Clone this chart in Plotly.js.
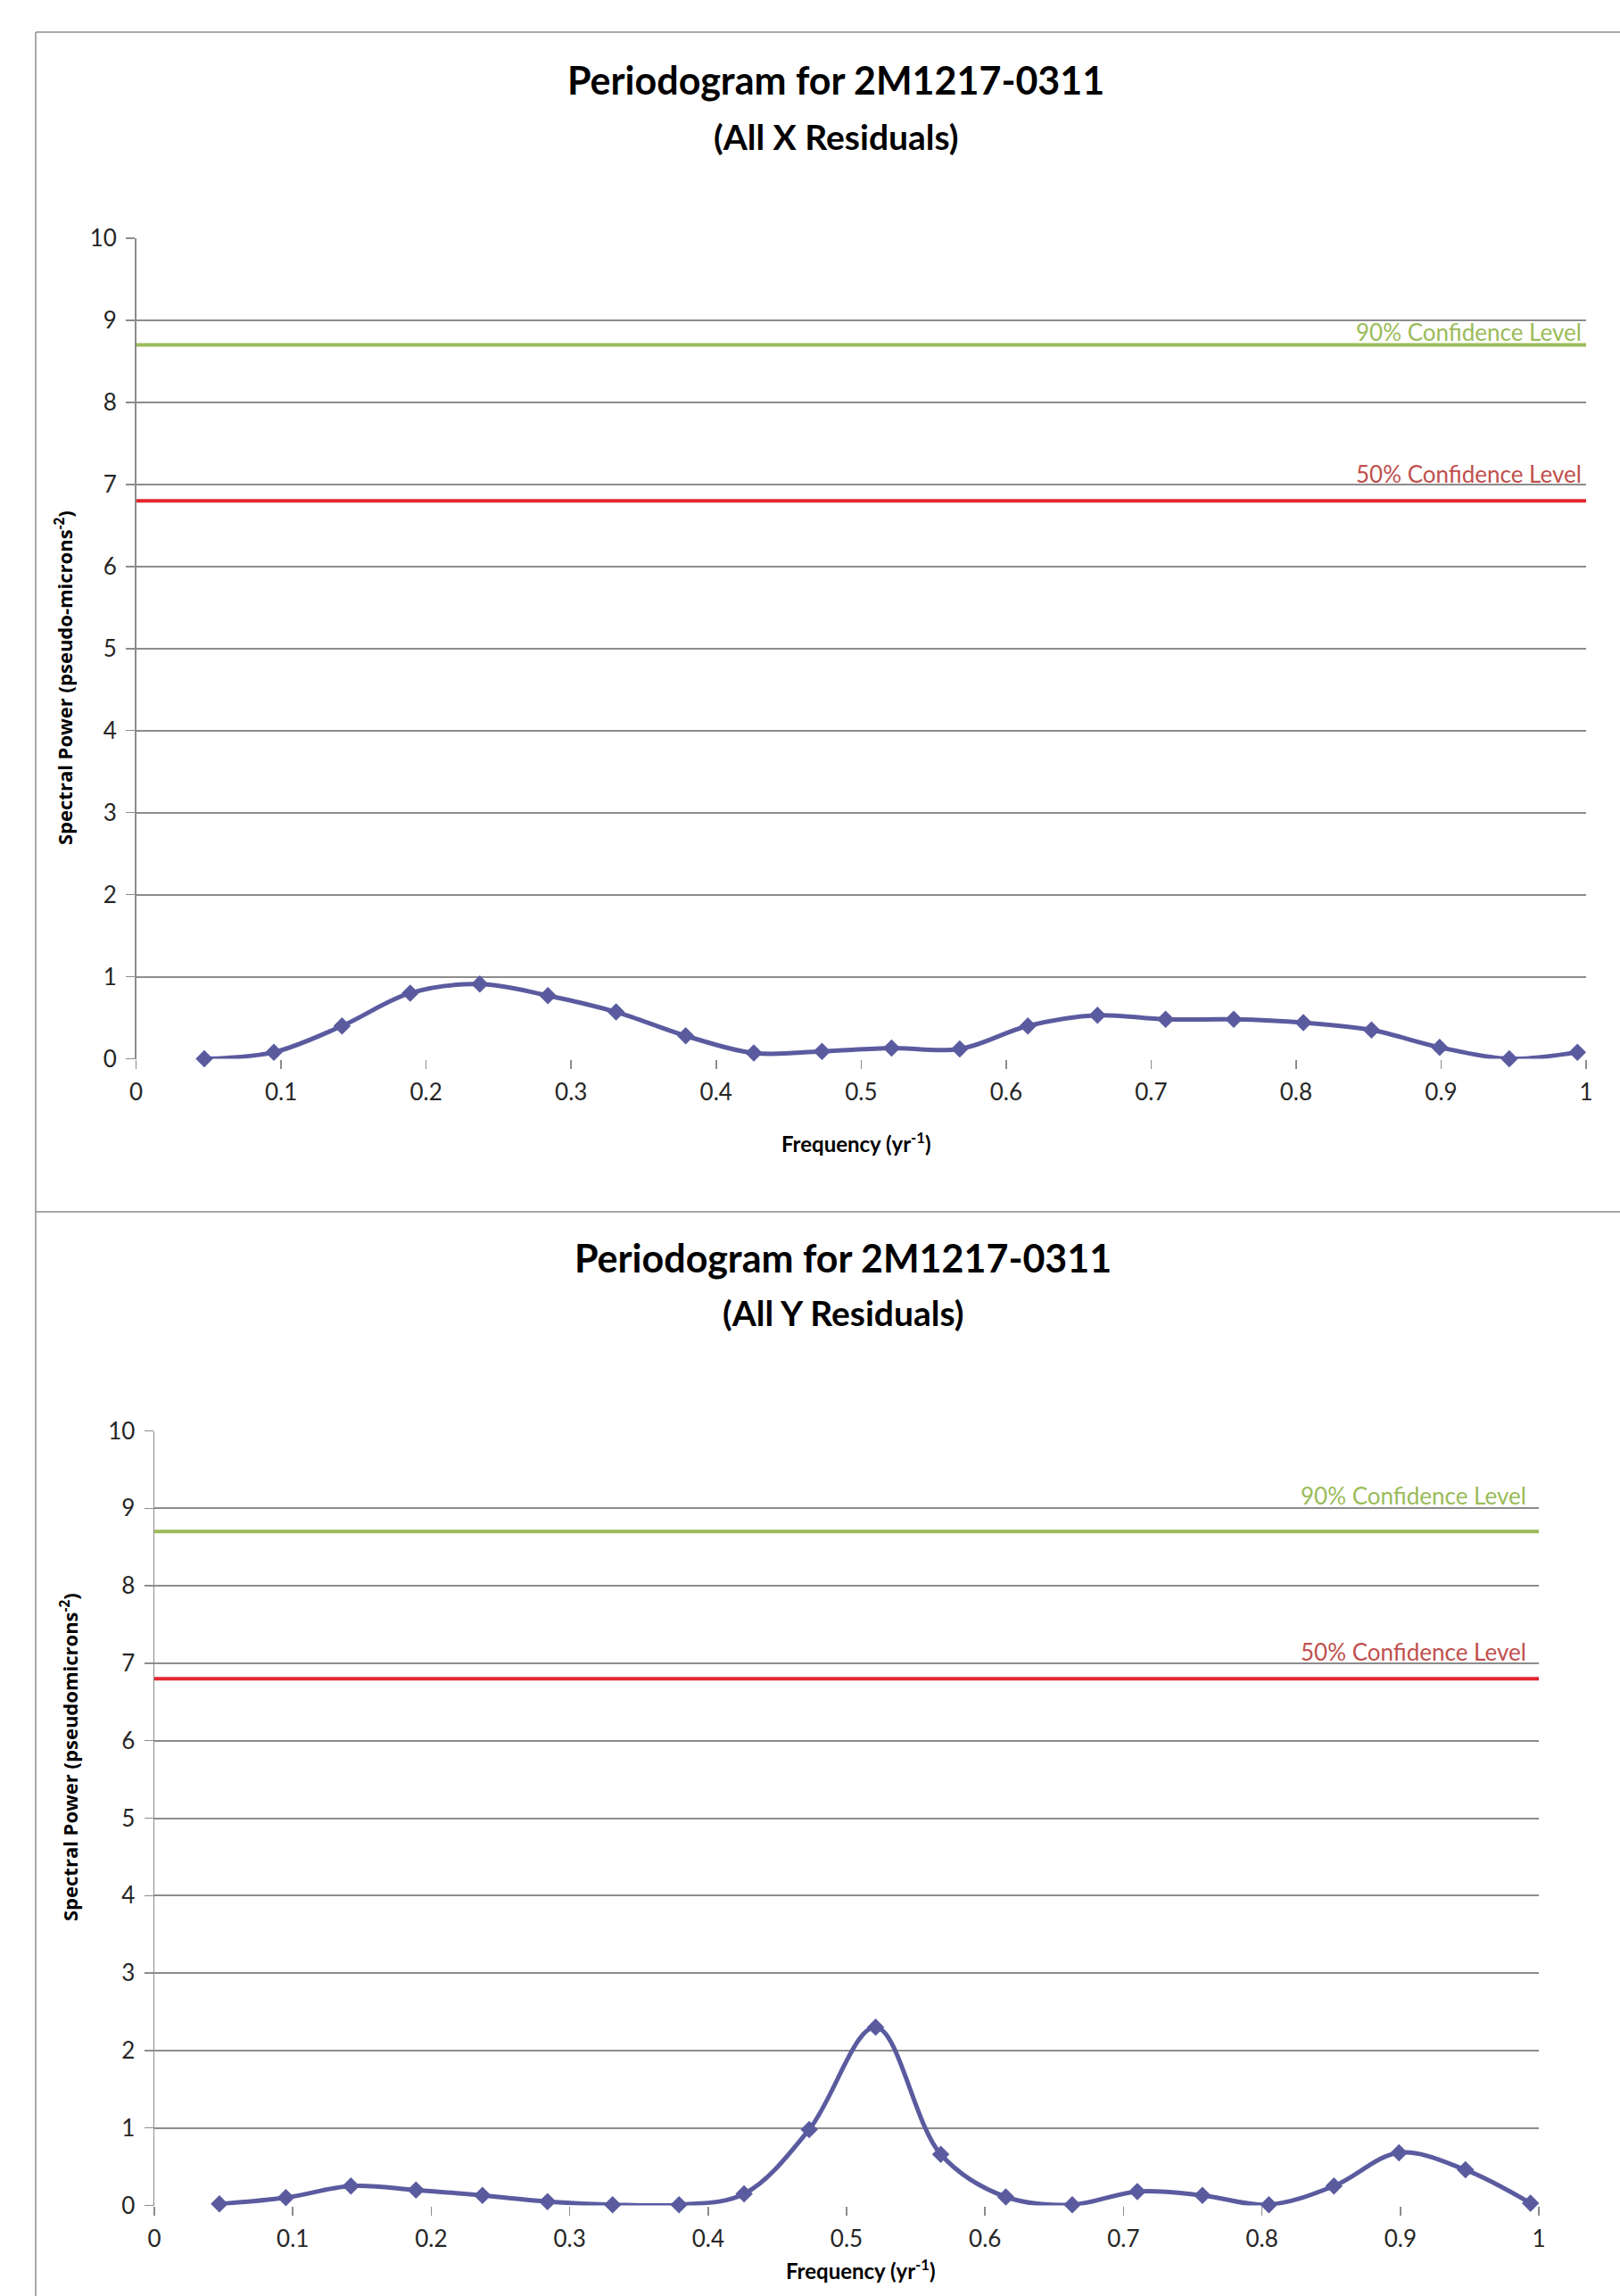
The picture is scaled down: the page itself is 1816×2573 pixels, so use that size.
<!DOCTYPE html>
<html>
<head>
<meta charset="utf-8">
<script src="https://cdn.plot.ly/plotly-3.0.1.min.js"></script>
<style>html,body{margin:0;padding:0;background:#fff;}#chart{width:1816px;height:2573px;}</style>
</head>
<body>
<div id="chart"></div>
<script>
// Frequencies (yr^-1)
const freq = [0.047, 0.095, 0.142, 0.189, 0.237, 0.284, 0.331, 0.379, 0.426, 0.473, 0.521,
              0.568, 0.615, 0.663, 0.710, 0.757, 0.805, 0.852, 0.899, 0.947, 0.994];
// Spectral power, X residuals
const powerX = [0.00, 0.08, 0.40, 0.80, 0.91, 0.77, 0.57, 0.28, 0.07, 0.09, 0.13,
                0.12, 0.40, 0.53, 0.48, 0.48, 0.44, 0.35, 0.14, 0.00, 0.08];
// Spectral power, Y residuals
const powerY = [0.02, 0.10, 0.25, 0.20, 0.13, 0.05, 0.01, 0.01, 0.15, 0.98, 2.30,
                0.66, 0.11, 0.01, 0.18, 0.13, 0.01, 0.25, 0.68, 0.46, 0.03];
// Confidence levels
const confX = [0, 1];
const conf90 = [8.7, 8.7];
const conf50 = [6.8, 6.8];
const title1 = "Periodogram for 2M1217-0311";
const sub1 = "(All X Residuals)";
const sub2 = "(All Y Residuals)";
const xTitle = "Frequency (yr<sup>-1</sup>)";
const yTitle1 = "Spectral Power (pseudo-microns<sup>-2</sup>)";
const yTitle2 = "Spectral Power (pseudomicrons<sup>-2</sup>)";
const label90 = "90% Confidence Level";
const label50 = "50% Confidence Level";

const W = 1816, H = 2573;
const px = v => v / W;
const py = v => 1 - v / H;

const seriesColor = "#5A5B9F";
const green = "#9BBB59";
const red = "#E3262E";
const grid = "#8C8C8C";
const tickFont = {family: "Lato, sans-serif", size: 26, color: "#262626"};

function series(x, y, xa, ya) {
  return {x: x, y: y, xaxis: xa, yaxis: ya, type: "scatter", mode: "lines+markers",
    line: {color: seriesColor, width: 5, shape: "spline", smoothing: 1},
    marker: {symbol: "diamond", size: 15, color: seriesColor},
    cliponaxis: false, showlegend: false, hoverinfo: "skip"};
}
function level(y, color, xa, ya) {
  return {x: confX, y: y, xaxis: xa, yaxis: ya, type: "scatter", mode: "lines",
    line: {color: color, width: 4}, showlegend: false, hoverinfo: "skip", cliponaxis: false};
}

const data = [
  level(conf90, green, "x", "y"),
  level(conf50, red, "x", "y"),
  series(freq, powerX, "x", "y"),
  level(conf90, green, "x2", "y2"),
  level(conf50, red, "x2", "y2"),
  series(freq, powerY, "x2", "y2")
];

function xaxis(domain, anchor) {
  return {domain: domain, anchor: anchor, range: [0, 1], dtick: 0.1, tick0: 0,
    showgrid: false, zeroline: false, showline: false,
    ticks: "outside", ticklen: 10, tickwidth: 1.5, tickcolor: grid,
    ticklabelstandoff: 4, tickfont: tickFont, fixedrange: true};
}
function yaxis(domain, anchor) {
  return {domain: domain, anchor: anchor, range: [0, 10], dtick: 1, tick0: 0,
    showgrid: true, gridcolor: grid, gridwidth: 2, zeroline: false,
    showline: true, linecolor: grid, linewidth: 1.5,
    ticks: "outside", ticklen: 10, tickwidth: 1.5, tickcolor: grid,
    ticklabelstandoff: 5, tickfont: tickFont, fixedrange: true};
}

const titleFont = {family: "Lato, sans-serif", size: 43, color: "#000", weight: "bold"};
const subFont = {family: "Lato, sans-serif", size: 39, color: "#000", weight: "bold"};
const axFont = {family: "Lato, sans-serif", size: 24, color: "#000", weight: "bold"};
const yAxFont = {family: "'Open Sans', sans-serif", size: 22, color: "#000", weight: "bold"};
const lblFont = (c) => ({family: "Lato, sans-serif", size: 26, color: c});

function ann(text, x, y, font, extra) {
  return Object.assign({text: text, x: x, y: y, xref: "paper", yref: "paper",
    showarrow: false, font: font, xanchor: "center", yanchor: "middle"}, extra || {});
}

const layout = {
  width: W, height: H,
  margin: {l: 0, r: 0, t: 0, b: 0},
  paper_bgcolor: "#fff", plot_bgcolor: "rgba(0,0,0,0)",
  showlegend: false,
  xaxis: xaxis([px(152.6), px(1778)], "y"),
  yaxis: yaxis([py(1186.5), py(267)], "x"),
  xaxis2: xaxis([px(173), px(1725)], "y2"),
  yaxis2: yaxis([py(2471.5), py(1603.5)], "x2"),
  annotations: [
    ann(title1, px(937), py(90), titleFont),
    ann(sub1, px(937), py(153), subFont),
    ann(xTitle, px(960), py(1280), axFont),
    ann(yTitle1, px(72), py(760), yAxFont, {textangle: -90}),
    ann(title1, px(945), py(1409), titleFont),
    ann(sub2, px(945), py(1471), subFont),
    ann(xTitle, px(965), py(2543), axFont),
    ann(yTitle2, px(77), py(1969), yAxFont, {textangle: -90}),
    {text: label90, x: 1, y: conf90[0], xref: "x", yref: "y", xanchor: "right", yanchor: "middle",
     xshift: -3, yshift: 15, showarrow: false, font: lblFont(green)},
    {text: label50, x: 1, y: conf50[0], xref: "x", yref: "y", xanchor: "right", yanchor: "middle",
     xshift: -3, yshift: 30, showarrow: false, font: lblFont("#C0504D")},
    {text: label90, x: 1, y: conf90[0], xref: "x2", yref: "y2", xanchor: "right", yanchor: "middle",
     xshift: -12, yshift: 40, showarrow: false, font: lblFont(green)},
    {text: label50, x: 1, y: conf50[0], xref: "x2", yref: "y2", xanchor: "right", yanchor: "middle",
     xshift: -12, yshift: 30, showarrow: false, font: lblFont("#C0504D")}
  ],
  shapes: [
    {type: "line", xref: "paper", yref: "paper", x0: px(40), x1: 1, y0: py(36), y1: py(36), line: {color: grid, width: 1.5}},
    {type: "line", xref: "paper", yref: "paper", x0: px(40), x1: px(40), y0: py(36), y1: 0, line: {color: grid, width: 1.5}},
    {type: "line", xref: "paper", yref: "paper", x0: px(40), x1: 1, y0: py(1358), y1: py(1358), line: {color: grid, width: 1.5}}
  ]
};

Plotly.newPlot("chart", data, layout, {staticPlot: true, displayModeBar: false});
</script>
</body>
</html>
